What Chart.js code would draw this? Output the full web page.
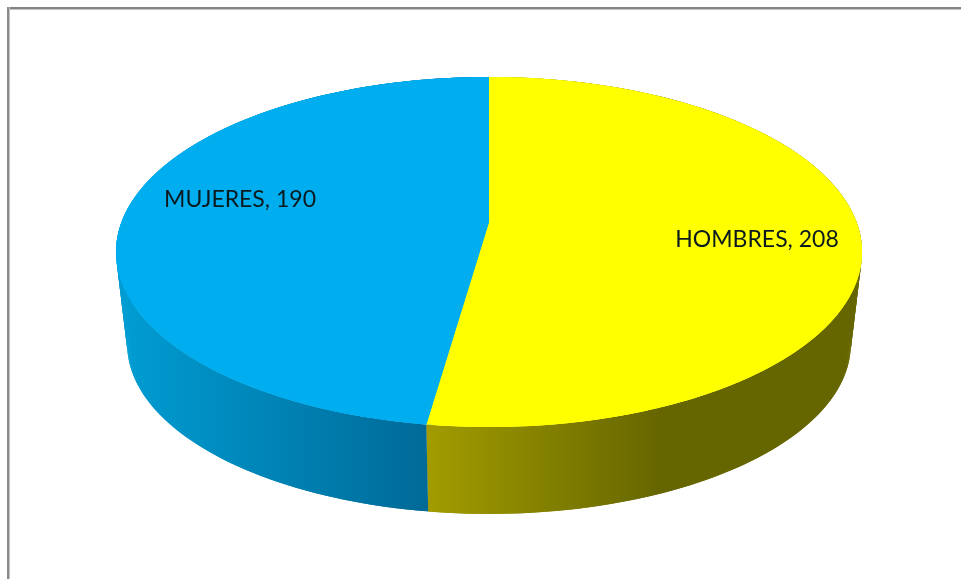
<!DOCTYPE html>
<html>
<head>
<meta charset="utf-8">
<style>
html,body{margin:0;padding:0;background:#fff;overflow:hidden}
#wrap{position:absolute;left:0;top:0;width:961px;height:579px}
#frameTop{position:absolute;left:7px;top:7px;right:0;height:2px;background:#848484;box-shadow:0 1px 0 #c4c4c4}
#frameLeft{position:absolute;left:7px;top:7px;bottom:0;width:2px;background:#8a8a8a;box-shadow:1px 0 0 #c4c4c4}
canvas{position:absolute;left:0;top:0;filter:blur(0.35px)}
</style>
<script src="https://cdn.jsdelivr.net/npm/chart.js@4"></script>
</head>
<body>
<div id="wrap">
<canvas id="c" width="961" height="579"></canvas>
<div id="frameTop"></div><div id="frameLeft"></div>
</div>
<script>
const categories = ['HOMBRES', 'MUJERES'];
const seriesValues = [208, 190];
const topColors = ['#FFFF00', '#00AEEF'];

// picture geometry of the tilted disc
const view = { cx: 489, cy: 222, a: 367.5, b: 169.9, k: 0.1714, wallScale: 0.97, wallCy: 315 };
const flat = { cx: 489, cy: 252, rx: 373, ry: 175 };
const labelPos = [[757, 240], [240, 200]];
const wallStops = [
  { x0: 427, x1: 660, from: '#A29C00', to: '#666600' },
  { x0: 125, x1: 427, from: '#009CD2', to: '#006A98' }
];

function project(angle, wall) {
  const u = Math.cos(angle), v = Math.sin(angle), w = 1 - view.k * v;
  const s = wall ? view.wallScale : 1, c = wall ? view.wallCy : view.cy;
  return [view.cx + s * view.a * u / w, c + s * view.b * v / w];
}

const tiltPlugin = {
  id: 'tilt',
  beforeDatasetsDraw(chart) {
    const ctx = chart.ctx, arcs = chart.getDatasetMeta(0).data;
    arcs.forEach((arc, i) => {
      const g = ctx.createLinearGradient(wallStops[i].x0, 0, wallStops[i].x1, 0);
      g.addColorStop(0, wallStops[i].from);
      g.addColorStop(1, wallStops[i].to);
      ctx.fillStyle = g;
      const n = 240, da = (arc.endAngle - arc.startAngle) / n;
      for (let j = 0; j < n; j++) {
        const a0 = arc.startAngle + j * da, a1 = a0 + da * 2;
        const end = Math.min(a1, arc.endAngle);
        const p = [project(a0), project(end), project(end, true), project(a0, true)];
        ctx.beginPath();
        p.forEach((q, m) => m ? ctx.lineTo(q[0], q[1]) : ctx.moveTo(q[0], q[1]));
        ctx.closePath();
        ctx.fill();
      }
    });
    const a = arcs[0];
    ctx.save();
    ctx.translate(flat.cx, flat.cy);
    ctx.scale(flat.rx / a.outerRadius, flat.ry / a.outerRadius);
    ctx.translate(-a.x, -a.y);
  },
  afterDatasetsDraw(chart) {
    const ctx = chart.ctx, arcs = chart.getDatasetMeta(0).data;
    ctx.restore();
    arcs.forEach((arc, i) => {
      ctx.fillStyle = topColors[i];
      ctx.beginPath();
      ctx.moveTo(view.cx, view.cy);
      const n = 360;
      for (let j = 0; j <= n; j++) {
        const q = project(arc.startAngle + (arc.endAngle - arc.startAngle) * j / n);
        ctx.lineTo(q[0], q[1]);
      }
      ctx.closePath();
      ctx.fill();
    });
    ctx.fillStyle = '#0b1a1f';
    ctx.font = '23px Lato';
    ctx.textAlign = 'center';
    ctx.textBaseline = 'middle';
    categories.forEach((name, i) => {
      ctx.fillText(name + ', ' + seriesValues[i], labelPos[i][0], labelPos[i][1]);
    });
  }
};

new Chart(document.getElementById('c'), {
  type: 'pie',
  data: {
    labels: categories,
    datasets: [{ data: seriesValues, backgroundColor: topColors, borderWidth: 0, clip: false }]
  },
  options: {
    responsive: false,
    animation: false,
    layout: { padding: 0 },
    plugins: { legend: { display: false }, tooltip: { enabled: false } }
  },
  plugins: [tiltPlugin]
});
</script>
</body>
</html>
